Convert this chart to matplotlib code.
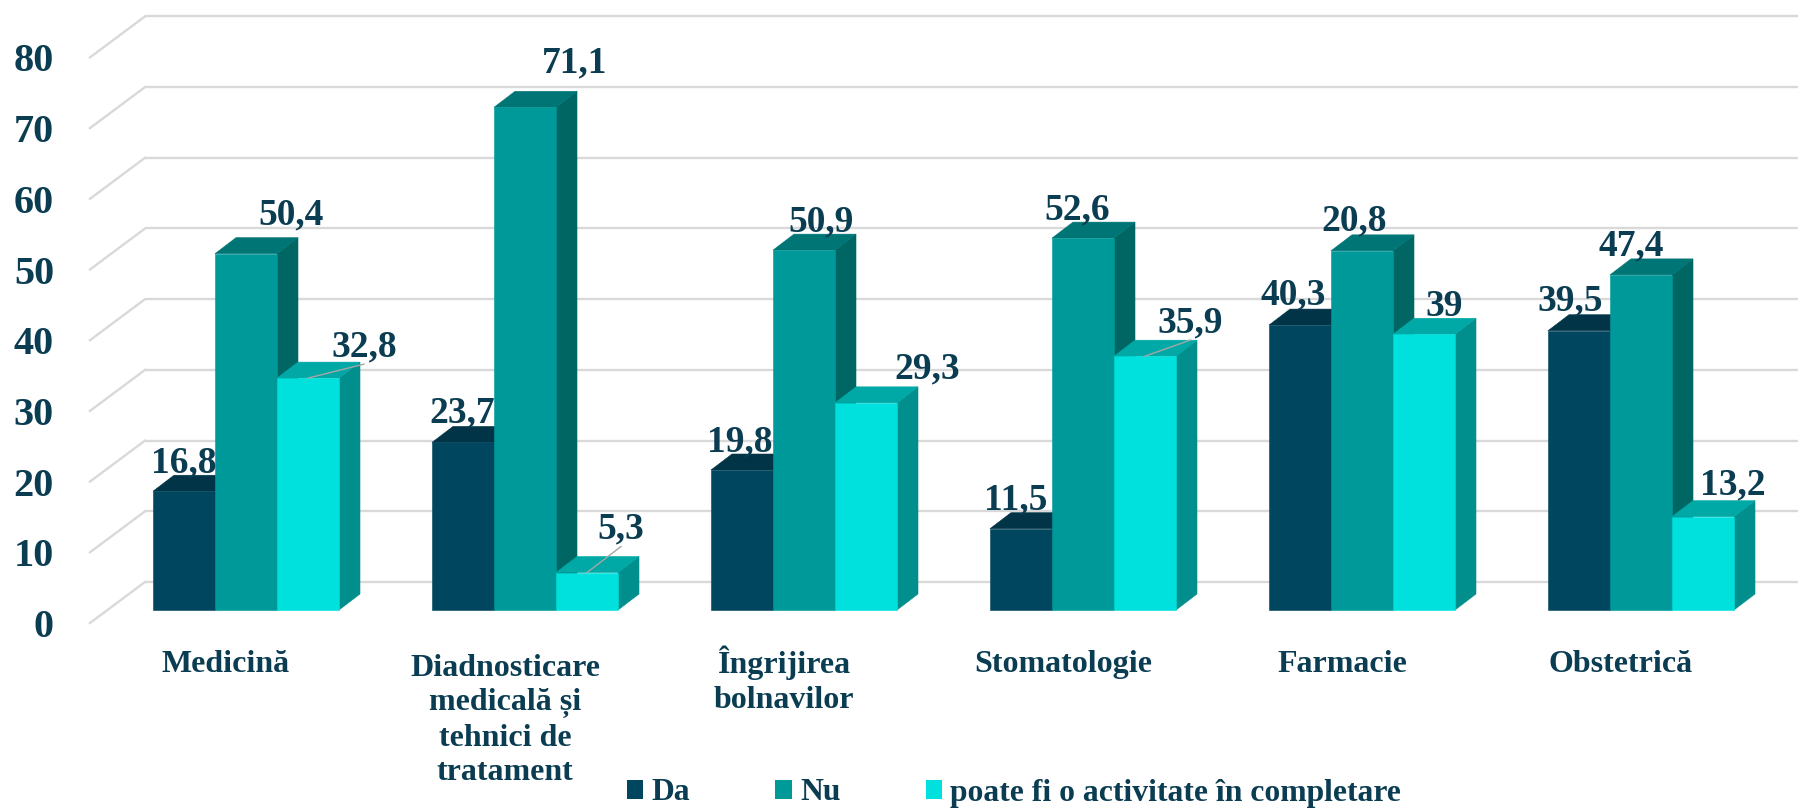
import matplotlib
matplotlib.use("Agg")
import matplotlib.pyplot as plt
from matplotlib.patches import Polygon, Patch
from matplotlib.font_manager import FontProperties

# ---------------- data ----------------
categories = ["Medicină",
              "Diadnosticare\nmedicală și\ntehnici de\ntratament",
              "Îngrijirea\nbolnavilor",
              "Stomatologie",
              "Farmacie",
              "Obstetrică"]
series_names = ["Da", "Nu", "poate fi o activitate în completare"]
da = [16.8, 23.7, 19.8, 11.5, 40.3, 39.5]
nu = [50.4, 71.1, 50.9, 52.6, 50.8, 47.4]
poate = [32.8, 5.3, 29.3, 35.9, 39.0, 13.2]
# data-label texts as printed on the chart (Farmacie "Nu" is printed as 20,8)
da_labels = ["16,8", "23,7", "19,8", "11,5", "40,3", "39,5"]
nu_labels = ["50,4", "71,1", "50,9", "52,6", "20,8", "47,4"]
poate_labels = ["32,8", "5,3", "29,3", "35,9", "39", "13,2"]
y_ticks = [0, 10, 20, 30, 40, 50, 60, 70, 80]

series = [da, nu, poate]
series_labels = [da_labels, nu_labels, poate_labels]

# ---------------- styles / layout ----------------
W, H = 1799, 808
TEXT = "#0B3D52"
GRID = "#D9D9D9"
front_cols = ["#00465F", "#009999", "#00E0DC"]
top_cols = ["#003446", "#007575", "#00A8A6"]
side_cols = ["#00323F", "#006664", "#008F8C"]

GROUP0_PX = 246.0      # pixel x of first group centre
STEP_PX = 279.0        # pixels per category
ZERO_PX = 610.0        # pixel y (from top) of value 0 on bar fronts
PX_UNIT = 7.07         # pixels per value unit
BAR_W = 62.0 / STEP_PX
DEPTH_X = 21.0 / STEP_PX
DEPTH_Y = 16.0 / PX_UNIT
CAT_LINE_PX = 36.0

def px_x(px):
    return (px - GROUP0_PX) / STEP_PX

def px_dx(px):
    return px / STEP_PX

def px_dy(px):
    return px / PX_UNIT

# label offsets (pixels): (dx from bar centre, dy of label centre above top-back edge)
label_offsets = [
    [(0, 16), (-1, 17), (-2, 16), (-5, 16), (-7, 18), (-9, 17)],
    [(45, 26), (50, 32), (17, 16), (-6, 16), (-8, 17), (-10, 16)],
    [(56, 19), (34, 31), (61, 21), (45, 21), (20, 15), (30, 19)],
]
leaders = {(2, 0), (2, 1), (2, 3)}

fp_tick = FontProperties(family="Liberation Serif", weight="bold", size=29)
fp_val = FontProperties(family="Liberation Serif", weight="bold", size=27)
fp_cat = FontProperties(family="Liberation Serif", weight="bold", size=23)
fp_leg = FontProperties(family="Liberation Serif", weight="bold", size=22.8)

fig = plt.figure(figsize=(W / 100, H / 100), dpi=100)
ax = fig.add_axes([0, 0, 1, 1])
ax.set_xlim(px_x(0), px_x(W))
ax.set_ylim(-(H - ZERO_PX) / PX_UNIT, ZERO_PX / PX_UNIT)
ax.axis("off")

# ---------------- walls / gridlines ----------------
wall_front_x = px_x(90)
wall_back_x = px_x(145)
for v in y_ticks:
    yb = v + px_dy(28)
    yf = v - px_dy(13)
    ax.plot([wall_back_x, px_x(W)], [yb, yb], color=GRID, lw=1.7, zorder=1,
            solid_capstyle="butt")
    ax.plot([wall_front_x, wall_back_x], [yf, yb], color=GRID, lw=1.7, zorder=1)
    ax.text(px_x(54), v - px_dy(27), str(v), ha="right", va="baseline",
            fontproperties=fp_tick, color=TEXT)

# ---------------- bars ----------------
z = 2
for i in range(len(categories)):
    for s, vals in enumerate(series):
        v = vals[i]
        x0 = i - 1.5 * BAR_W + s * BAR_W
        x1 = x0 + BAR_W
        side = Polygon([(x1, 0), (x1 + DEPTH_X, DEPTH_Y), (x1 + DEPTH_X, v + DEPTH_Y), (x1, v)],
                       closed=True, facecolor=side_cols[s], edgecolor=side_cols[s], lw=0.4, zorder=z)
        top = Polygon([(x0, v), (x1, v), (x1 + DEPTH_X, v + DEPTH_Y), (x0 + DEPTH_X, v + DEPTH_Y)],
                      closed=True, facecolor=top_cols[s], edgecolor=top_cols[s], lw=0.4, zorder=z)
        front = Polygon([(x0, 0), (x1, 0), (x1, v), (x0, v)],
                        closed=True, facecolor=front_cols[s], edgecolor=front_cols[s], lw=0.4, zorder=z)
        ax.add_patch(side)
        ax.add_patch(top)
        ax.add_patch(front)

# ---------------- data labels ----------------
for s, vals in enumerate(series):
    for i, v in enumerate(vals):
        xc = i - 1.5 * BAR_W + s * BAR_W + BAR_W / 2
        dx, dy = label_offsets[s][i]
        ax.annotate(series_labels[s][i], xy=(xc, v), xytext=(dx, dy + 3),
                    textcoords="offset pixels", ha="center", va="baseline",
                    fontproperties=fp_val, color=TEXT, zorder=10)
        if (s, i) in leaders:
            ax.plot([xc, xc + px_dx(dx)], [v, v + px_dy(dy + 3 - 8)],
                    color="#A6A6A6", lw=1.0, zorder=9)

# ---------------- category labels ----------------
for i, c in enumerate(categories):
    n_lines = c.count("\n") + 1
    ax.text(i - 20 / STEP_PX, -px_dy(62 + CAT_LINE_PX * (n_lines - 1)), c,
            ha="center", va="baseline", multialignment="center", linespacing=1.25,
            fontproperties=fp_cat, color=TEXT)

# ---------------- legend ----------------
handles = [Patch(facecolor=front_cols[s], edgecolor="none") for s in range(3)]
leg = fig.legend(handles, series_names, loc="center",
                 bbox_to_anchor=(1014 / W, 1 - 793 / H), ncol=3, frameon=False,
                 handlelength=0.52, handleheight=0.52, handletextpad=0.25,
                 columnspacing=2.7, prop=fp_leg, borderpad=0, borderaxespad=0)
for t in leg.get_texts():
    t.set_color(TEXT)

fig.savefig("out.png", dpi=100)
